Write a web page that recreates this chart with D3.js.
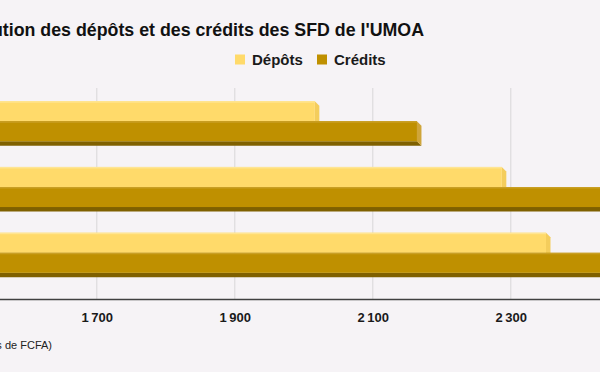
<!DOCTYPE html>
<html>
<head>
<meta charset="utf-8">
<script src="https://cdn.jsdelivr.net/npm/d3@7"></script>
<style>
  html, body { margin: 0; padding: 0; background: #f6f3f6; }
  svg { display: block; font-family: "Liberation Sans", Arial, sans-serif; }
</style>
</head>
<body>
<div id="chart"></div>
<script>
// data (the picture is a crop: the left part of the chart is off-screen)
const categories = ['2019', '2020', '2021'];
const seriesNames = ['Dépôts', 'Crédits'];
const depots  = [2016, 2287, 2351];
const credits = [2164, 2520, 2580];
const tickValues = [1700, 1900, 2100, 2300];
const titleText = "Evolution des dépôts et des crédits des SFD de l'UMOA";
const unitText = '(en milliards de FCFA)';

const width = 600, height = 372;
const plotTop = 88, plotBottom = 299;
const depth = 4.5;

const colors = {
  'Dépôts':  { front: '#ffda6a', top: '#ffe592', side: '#f4cd5c', bottom: '#c9a23e' },
  'Crédits': { front: '#bf9000', top: '#c99f24', side: '#cfa53a', bottom: '#7f6000' }
};

const svg = d3.select('#chart').append('svg')
  .attr('width', width)
  .attr('height', height);

svg.append('rect').attr('width', width).attr('height', height).attr('fill', '#f6f3f6');

// 1700 sits at x=96.8, 200 units = 138px
const pxPerUnit = 138 / 200;
const x = d3.scaleLinear()
  .domain([1500, 2700])
  .range([96.8 - 200 * pxPerUnit, 96.8 + 1000 * pxPerUnit]);

const y0 = d3.scaleBand()
  .domain(categories)
  .range([88, 286])
  .paddingInner(0.39)
  .paddingOuter(0.2);

const y1 = d3.scaleBand()
  .domain(seriesNames)
  .range([0, y0.bandwidth()]);

const fr = d3.formatLocale({ decimal: ',', thousands: '\u2009', grouping: [3], currency: ['', ''] });
const fmt = fr.format(',d');

// grid
svg.append('g').attr('class', 'grid')
  .selectAll('line')
  .data(tickValues)
  .join('line')
  .attr('x1', d => x(d)).attr('x2', d => x(d))
  .attr('y1', plotTop).attr('y2', plotBottom)
  .attr('stroke', '#d9d6d9')
  .attr('stroke-width', 1);

// bars
const rows = categories.map((c, i) => ({
  cat: c,
  vals: [{ key: 'Dépôts', value: depots[i] }, { key: 'Crédits', value: credits[i] }]
}));

const groups = svg.append('g').attr('class', 'bars')
  .selectAll('g')
  .data(rows)
  .join('g')
  .attr('transform', d => `translate(0,${y0(d.cat)})`);

groups.each(function (row) {
  const g = d3.select(this);
  row.vals.forEach(v => {
    const c = colors[v.key];
    const x0 = x(1500), xe = x(v.value);
    const yt = y1(v.key), h = y1.bandwidth();
    // bottom face
    g.append('path')
      .attr('d', `M${x0},${yt + h}L${xe},${yt + h}L${xe + depth},${yt + h + depth}L${x0 + depth},${yt + h + depth}Z`)
      .attr('fill', c.bottom);
    // side face
    g.append('path')
      .attr('d', `M${xe},${yt}L${xe + depth},${yt + depth}L${xe + depth},${yt + h + depth}L${xe},${yt + h}Z`)
      .attr('fill', c.side);
    // front face
    g.append('rect')
      .attr('x', x0).attr('y', yt)
      .attr('width', xe - x0).attr('height', h)
      .attr('fill', c.front);
    g.append('rect')
      .attr('x', x0).attr('y', yt)
      .attr('width', xe - x0).attr('height', 1.5)
      .attr('fill', c.top);
  });
});

// axis
const xAxis = svg.append('g')
  .attr('transform', `translate(0,${plotBottom})`)
  .call(d3.axisBottom(x).tickValues(tickValues).tickFormat(fmt).tickSize(0).tickPadding(14));
xAxis.select('.domain').remove();
xAxis.selectAll('text')
  .attr('font-size', 13)
  .attr('font-weight', 'bold')
  .attr('fill', '#1a1a1a')
  .attr('font-family', '"Liberation Sans", Arial, sans-serif');

svg.append('line')
  .attr('x1', 0).attr('x2', width)
  .attr('y1', plotBottom + 0.5).attr('y2', plotBottom + 0.5)
  .attr('stroke', '#404040')
  .attr('stroke-width', 1.4);

// title
svg.append('text')
  .attr('x', 424).attr('y', 35.5)
  .attr('text-anchor', 'end')
  .attr('font-size', 17.8)
  .attr('font-weight', 'bold')
  .attr('fill', '#111')
  .text(titleText);

// legend
const legend = svg.append('g').attr('class', 'legend');
const legendX = [235, 317];
seriesNames.forEach((s, i) => {
  legend.append('rect')
    .attr('x', legendX[i]).attr('y', 54.5)
    .attr('width', 10).attr('height', 10)
    .attr('fill', colors[s].front);
  legend.append('text')
    .attr('x', legendX[i] + 17).attr('y', 65)
    .attr('font-size', 15)
    .attr('font-weight', 'bold')
    .attr('fill', '#1a1a1a')
    .text(s);
});

// unit note
svg.append('text')
  .attr('x', 52).attr('y', 349)
  .attr('text-anchor', 'end')
  .attr('font-size', 11)
  .attr('fill', '#222')
  .text(unitText);
</script>
</body>
</html>
